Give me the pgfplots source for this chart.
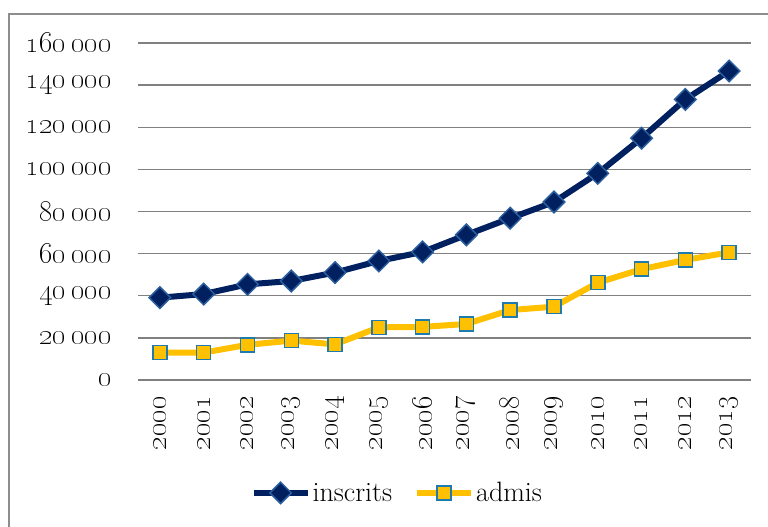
\documentclass[border=0pt]{standalone}
\usepackage{pgfplots}
\pgfplotsset{compat=1.18}
\definecolor{navy}{HTML}{002060}
\definecolor{navyedge}{HTML}{2A5E9E}
\definecolor{gold}{HTML}{FFC000}
\definecolor{goldedge}{HTML}{1F7AAE}
\definecolor{gridgray}{HTML}{808080}
\newcommand{\os}[1]{\oldstylenums{#1}}
\begin{document}
\begin{tikzpicture}[x=1pt,y=1pt]
\useasboundingbox (0,0) rectangle (768,527);
\draw[gridgray!90,line width=1.6pt] (9,-5) -- (9,513) -- (773,513);
\begin{axis}[
  at={(138pt,147pt)}, anchor=south west,
  scale only axis, width=613pt, height=337pt,
  xmin=-0.5, xmax=13.5, ymin=0, ymax=160000,
  scaled y ticks=false,
  axis line style={draw=none},
  ymajorgrids, grid style={gridgray, line width=1.3pt},
  major tick length=0pt,
  xtick={0,...,13},
  xticklabels={\os{2000},\os{2001},\os{2002},\os{2003},\os{2004},\os{2005},\os{2006},\os{2007},\os{2008},\os{2009},\os{2010},\os{2011},\os{2012},\os{2013}},
  x tick label style={rotate=90, anchor=east, font=\fontsize{32}{36}\selectfont, inner sep=0pt},
  ytick={0,20000,40000,60000,80000,100000,120000,140000,160000},
  yticklabels={\os{0},\os{20}\,\os{000},\os{40}\,\os{000},\os{60}\,\os{000},\os{80}\,\os{000},\os{100}\,\os{000},\os{120}\,\os{000},\os{140}\,\os{000},\os{160}\,\os{000}},
  y tick label style={font=\fontsize{30}{34}\selectfont, anchor=east, inner sep=0pt},
  yticklabel shift=26pt,
  xticklabel shift=16pt,
  clip=false,
  legend columns=2,
  legend style={at={(0.423,-0.335)}, anchor=center, draw=none, fill=none,
    font=\fontsize{28}{32}\selectfont, /tikz/every even column/.append style={column sep=20pt}},
  legend image code/.code={\draw[#1, mark repeat=2, mark phase=2] plot coordinates {(0pt,0pt) (27pt,0pt) (54pt,0pt)};},
]
\addplot[navy, line width=6pt, mark=square*, mark size=7.6pt,
  mark options={fill=navy, draw=navyedge, line width=1.5pt, rotate=45}]
  coordinates {(0,39100) (1,40800) (2,45400) (3,47000) (4,51000) (5,56500) (6,60800) (7,68900) (8,76800) (9,84500) (10,98100) (11,114800) (12,133200) (13,146700)};
\addlegendentry{inscrits}
\addplot[gold, line width=6pt, mark=square*, mark size=7pt,
  mark options={fill=gold, draw=goldedge, line width=1.5pt}]
  coordinates {(0,13000) (1,13000) (2,16700) (3,18700) (4,16900) (5,25000) (6,25200) (7,26600) (8,33200) (9,34800) (10,46200) (11,52600) (12,57000) (13,60600)};
\addlegendentry{admis}
\end{axis}
\end{tikzpicture}
\end{document}
